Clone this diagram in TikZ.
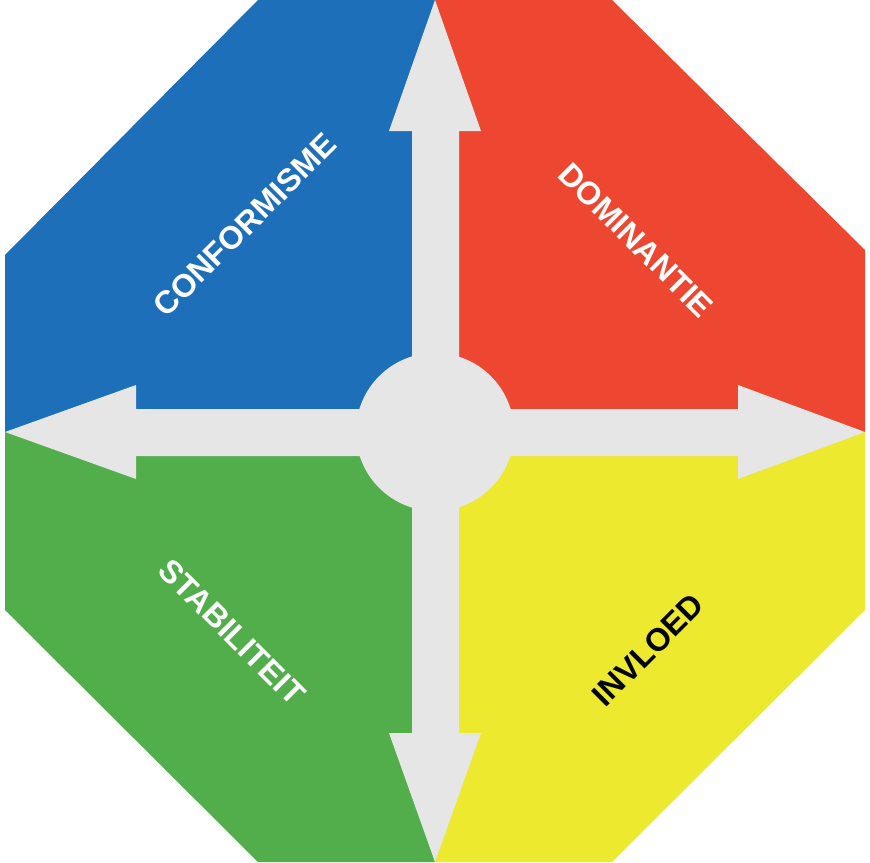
\documentclass[tikz,border=0pt]{standalone}
\usepackage{fontspec}
\setmainfont{Liberation Sans}
\usetikzlibrary{positioning}

\definecolor{qblue}{RGB}{30,111,186}
\definecolor{qred}{RGB}{238,71,49}
\definecolor{qgreen}{RGB}{82,174,75}
\definecolor{qyellow}{RGB}{236,233,46}
\definecolor{qgray}{RGB}{230,230,230}

\begin{document}
\begin{tikzpicture}[
  x=1pt, y=-1pt,
  quad/.style={draw=none},
  arrowshape/.style={fill=qgray, draw=none},
  label/.style={font=\bfseries\fontsize{32}{32}\selectfont, inner sep=0pt, text=white}
]
\useasboundingbox (0,0) rectangle (870,862);

% four coloured quarters of the octagon
\fill[quad, qblue]   (5,432) -- (5,255) -- (258,0) -- (435,0) -- (435,432) -- cycle;
\fill[quad, qred]    (435,0) -- (612,0) -- (865,250) -- (865,432) -- (435,432) -- cycle;
\fill[quad, qgreen]  (5,432) -- (5,610) -- (258,862) -- (435,862) -- (435,432) -- cycle;
\fill[quad, qyellow] (435,432) -- (865,432) -- (865,610) -- (612,862) -- (435,862) -- cycle;

% the cross of arrows
\fill[arrowshape] (435,0) -- (481,131) -- (459,131) -- (459,733) -- (481,733)
  -- (435,862) -- (389,733) -- (412,733) -- (412,131) -- (389,131) -- cycle;
\fill[arrowshape] (5,432) -- (136,385) -- (136,409) -- (738,409) -- (738,385)
  -- (865,432) -- (738,479) -- (738,456) -- (136,456) -- (136,479) -- cycle;
\fill[arrowshape] (435,432) circle[radius=79];

% labels
\node[label, rotate=45]  (conf) at (245,225) {CONFORMISME};
\node[label, rotate=-45] (dom)  at (636,240) {DOMINANTIE};
\node[label, rotate=-45] (stab) at (232,632) {STABILITEIT};
\node[label, rotate=45, text=black] (invl) at (648,650) {INVLOED};

\end{tikzpicture}
\end{document}
